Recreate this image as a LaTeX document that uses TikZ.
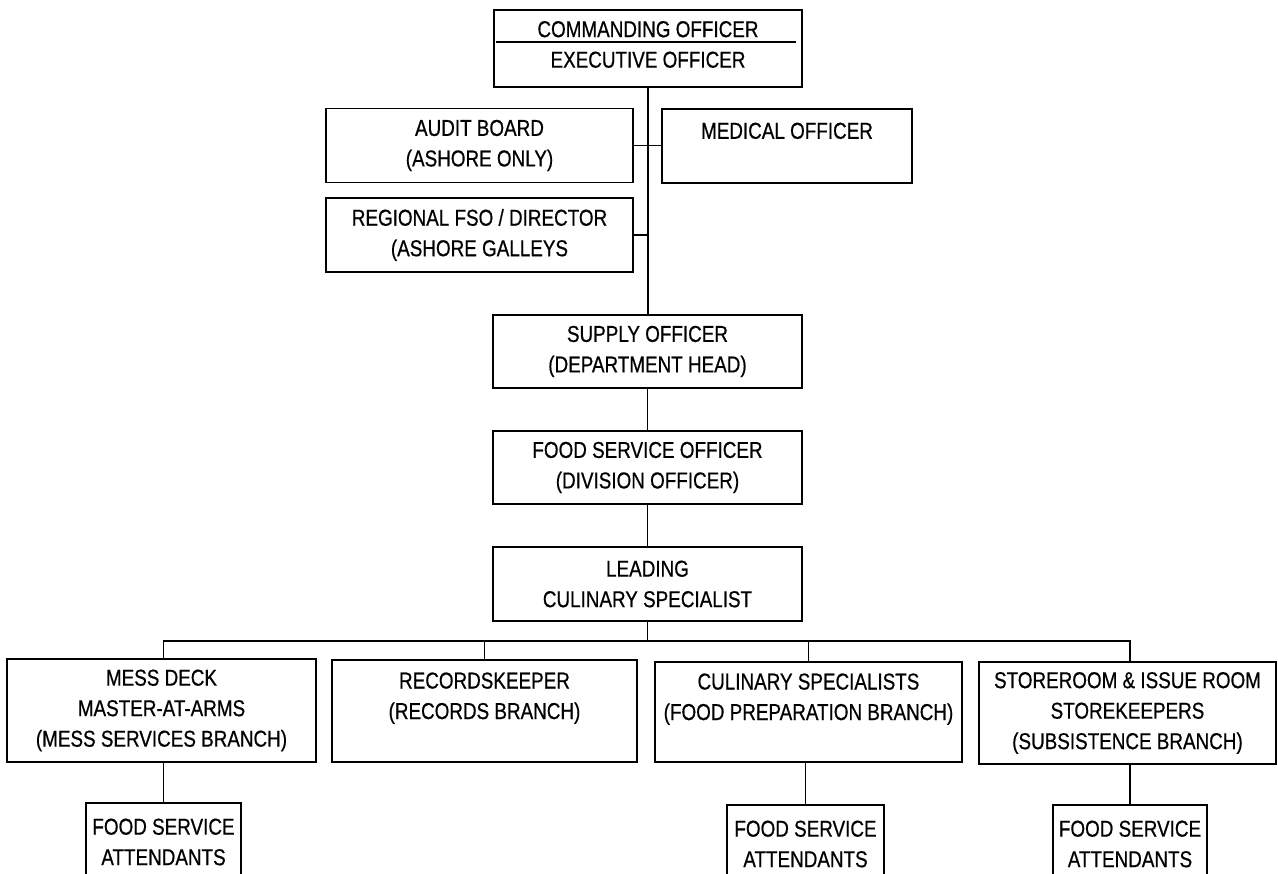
\documentclass[tikz,border=0pt]{standalone}
\usepackage{fontspec}
\setmainfont{Liberation Sans}[FakeStretch=0.82,FakeBold=0.6]
\usetikzlibrary{calc}
\begin{document}
\begin{tikzpicture}[x=1pt,y=-1pt,
  every node/.style={font=\fontsize{23}{30.5}\selectfont, align=center, inner sep=0pt},
  box/.style={draw, line width=1.8pt},
  conn/.style={line width=1.3pt}]
\fill[white] (0,0) rectangle (1278,874);
\useasboundingbox (0,0) rectangle (1278,874);
\clip (0,0) rectangle (1278,874);

% top box
\node[box, minimum width=308pt, minimum height=77pt] (co) at (648,48.5) {};
\node (cotext) at (648,44.5) {COMMANDING OFFICER\\EXECUTIVE OFFICER};
\draw[box] ($(co.north west)+(3,33)$) -- ($(co.north east)+(-7,33)$);

% staff
\node[box, minimum width=307pt, minimum height=74pt] (audit) at (479.5,145.5) {AUDIT BOARD\\(ASHORE ONLY)};
\node[box, minimum width=250pt, minimum height=74pt] (medical) at (787,146) {MEDICAL OFFICER\\\mbox{}};
\node[box, minimum width=307pt, minimum height=74pt] (regional) at (479.5,235) {REGIONAL FSO / DIRECTOR\\(ASHORE GALLEYS};

% chain
\node[box, minimum width=309pt, minimum height=73pt] (supply) at (647.5,351.5) {SUPPLY OFFICER\\(DEPARTMENT HEAD)};
\node[box, minimum width=309pt, minimum height=73pt] (fso) at (647.5,467.5) {FOOD SERVICE OFFICER\\(DIVISION OFFICER)};
\node[box, minimum width=309pt, minimum height=74pt] (lcs) at (647.5,584) {LEADING\\CULINARY SPECIALIST};

% branches
\node[box, minimum width=309pt, minimum height=103pt] (mess) at (161.5,710.5) {MESS DECK\\MASTER-AT-ARMS\\(MESS SERVICES BRANCH)};
\node[box, minimum width=305pt, minimum height=102pt] (rec) at (484.5,711) {RECORDSKEEPER\\(RECORDS BRANCH)\\\mbox{}};
\node[box, minimum width=307pt, minimum height=100pt] (cul) at (808.5,712) {CULINARY SPECIALISTS\\(FOOD PREPARATION BRANCH)\\\mbox{}};
\node[box, minimum width=297pt, minimum height=102pt] (sto) at (1127.5,713) {STOREROOM \& ISSUE ROOM\\STOREKEEPERS\\(SUBSISTENCE BRANCH)};

% attendants
\node[box, minimum width=155pt, minimum height=78pt] (fsa1) at (163.5,842) {FOOD SERVICE\\ATTENDANTS};
\node[box, minimum width=157pt, minimum height=78pt] (fsa2) at (805.5,844) {FOOD SERVICE\\ATTENDANTS};
\node[box, minimum width=154pt, minimum height=78pt] (fsa3) at (1130,844) {FOOD SERVICE\\ATTENDANTS};

% connectors
\coordinate (busy) at (0,641);
\draw[conn] (co.south) -- (co.south |- supply.north);
\draw[conn] (audit.east) -- (medical.west |- audit.east);
\draw[conn] (regional.east) -- (regional.east -| co.south);
\draw[conn] (supply.south) -- (fso.north);
\draw[conn] (fso.south) -- (lcs.north);
\draw[conn] (lcs.south) -- (lcs.south |- busy);
\draw[conn] (fsa1.north |- mess.north) |- (busy -| fsa3.north) -- (fsa3.north |- sto.north);
\draw[conn] (rec.north) -- (rec.north |- busy);
\draw[conn] (cul.north) -- (cul.north |- busy);
\draw[conn] (fsa1.north |- mess.south) -- (fsa1.north);
\draw[conn] (fsa2.north |- cul.south) -- (fsa2.north);
\draw[conn] (fsa3.north |- sto.south) -- (fsa3.north);
\end{tikzpicture}
\end{document}
